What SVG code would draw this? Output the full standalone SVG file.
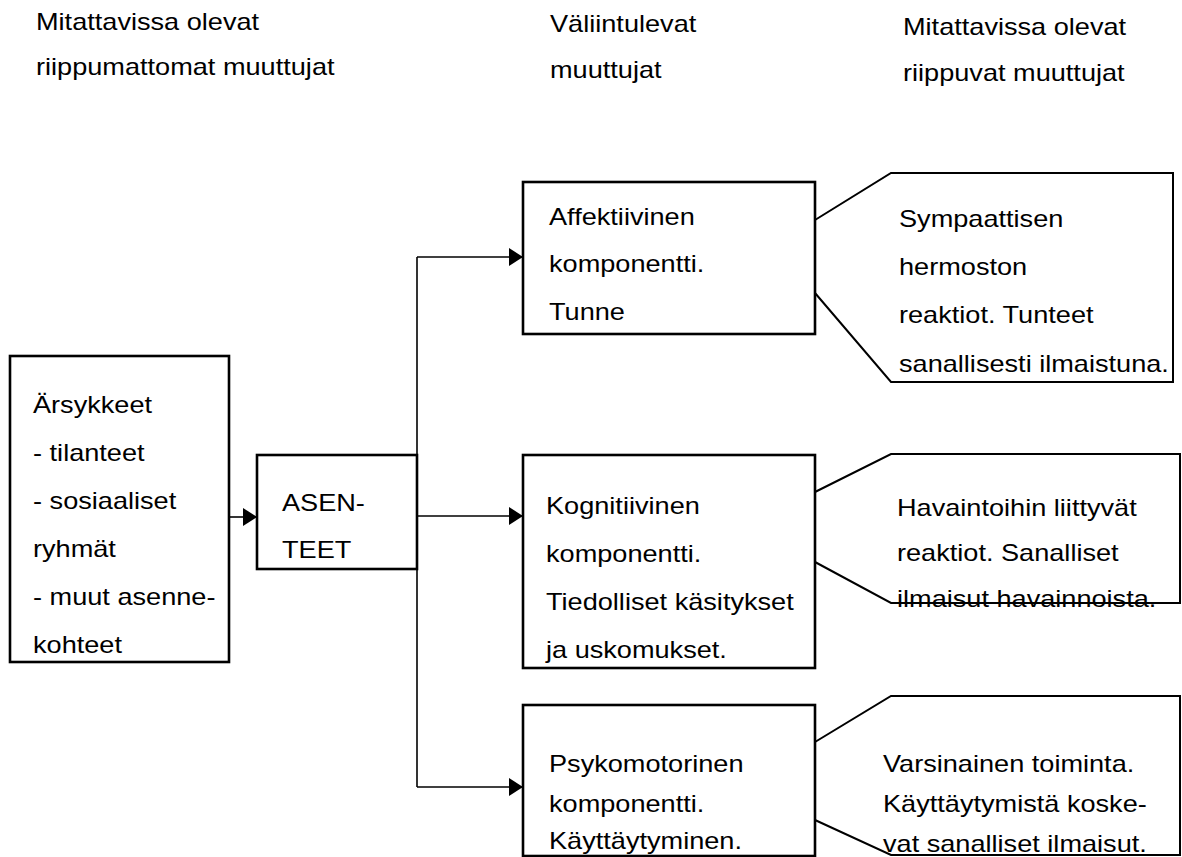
<svg xmlns="http://www.w3.org/2000/svg" width="1182" height="857" viewBox="0 0 1182 857">
  <defs>
    <marker id="arrow" markerUnits="userSpaceOnUse" markerWidth="16" markerHeight="18" refX="14" refY="9" orient="auto">
      <path d="M0,0 L14,9 L0,18 z" fill="#000"/>
    </marker>
  </defs>
  <style>
    text { font-family: "Liberation Sans", Arial, sans-serif; font-size: 23px; fill: #000; }
    .box { fill: #fff; stroke: #000; stroke-width: 2.6; }
    .call { fill: none; stroke: #000; stroke-width: 2; stroke-linejoin: miter; }
    .conn { fill: none; stroke: #000; stroke-width: 1.6; }
  </style>
  <rect width="1182" height="857" fill="#fff"/>

  <!-- column headings -->
  <g id="heading-independent">
    <text transform="translate(36,30) scale(1.18,1)">Mitattavissa olevat</text>
    <text transform="translate(36,75) scale(1.18,1)">riippumattomat muuttujat</text>
  </g>
  <g id="heading-intervening">
    <text transform="translate(550,32) scale(1.18,1)">Väliintulevat</text>
    <text transform="translate(550,78) scale(1.18,1)">muuttujat</text>
  </g>
  <g id="heading-dependent">
    <text transform="translate(903,35) scale(1.18,1)">Mitattavissa olevat</text>
    <text transform="translate(903,81) scale(1.18,1)">riippuvat muuttujat</text>
  </g>

  <!-- connectors -->
  <g id="connectors">
    <path class="conn" d="M229,517 H257" marker-end="url(#arrow)"/>
    <path class="conn" d="M417,257 V787"/>
    <path class="conn" d="M417,257 H523" marker-end="url(#arrow)"/>
    <path class="conn" d="M417,516 H523" marker-end="url(#arrow)"/>
    <path class="conn" d="M417,787 H523" marker-end="url(#arrow)"/>
  </g>

  <!-- stimuli -->
  <g id="stimuli">
    <rect class="box" x="10" y="356" width="219" height="306"/>
    <text transform="translate(33,413) scale(1.18,1)">Ärsykkeet</text>
    <text transform="translate(33,461) scale(1.18,1)">- tilanteet</text>
    <text transform="translate(33,509) scale(1.18,1)">- sosiaaliset</text>
    <text transform="translate(33,557) scale(1.18,1)">ryhmät</text>
    <text transform="translate(33,605) scale(1.18,1)">- muut asenne-</text>
    <text transform="translate(33,653) scale(1.18,1)">kohteet</text>
  </g>

  <!-- attitudes -->
  <g id="attitudes">
    <rect class="box" x="257" y="455" width="160" height="114"/>
    <text transform="translate(282,511) scale(1.18,1)">ASEN-</text>
    <text transform="translate(282,558) scale(1.18,1)">TEET</text>
  </g>

  <!-- components -->
  <g id="affective">
    <rect class="box" x="523" y="182" width="292" height="152"/>
    <text transform="translate(549,225) scale(1.18,1)">Affektiivinen</text>
    <text transform="translate(549,272) scale(1.18,1)">komponentti.</text>
    <text transform="translate(549,320) scale(1.18,1)">Tunne</text>
  </g>
  <g id="cognitive">
    <rect class="box" x="523" y="455" width="292" height="213"/>
    <text transform="translate(546,514) scale(1.18,1)">Kognitiivinen</text>
    <text transform="translate(546,562) scale(1.18,1)">komponentti.</text>
    <text transform="translate(546,610) scale(1.18,1)">Tiedolliset käsitykset</text>
    <text transform="translate(546,658) scale(1.18,1)">ja uskomukset.</text>
  </g>
  <g id="psychomotor">
    <rect class="box" x="523" y="705" width="292" height="151"/>
    <text transform="translate(549,772) scale(1.18,1)">Psykomotorinen</text>
    <text transform="translate(549,812) scale(1.18,1)">komponentti.</text>
    <text transform="translate(549,849) scale(1.18,1)">Käyttäytyminen.</text>
  </g>

  <!-- measurable responses -->
  <g id="affective-response">
    <path class="call" d="M815,220 L891,173 H1173 V382 H891 L815,293"/>
    <text transform="translate(899,227) scale(1.18,1)">Sympaattisen</text>
    <text transform="translate(899,275) scale(1.18,1)">hermoston</text>
    <text transform="translate(899,323) scale(1.18,1)">reaktiot. Tunteet</text>
    <text transform="translate(899,372) scale(1.18,1)">sanallisesti ilmaistuna.</text>
  </g>
  <g id="cognitive-response">
    <path class="call" d="M815,492 L891,454 H1180 V603 H891 L815,562"/>
    <text transform="translate(897,516) scale(1.18,1)">Havaintoihin liittyvät</text>
    <text transform="translate(897,561) scale(1.18,1)">reaktiot. Sanalliset</text>
    <text transform="translate(897,607) scale(1.18,1)">ilmaisut havainnoista.</text>
  </g>
  <g id="psychomotor-response">
    <path class="call" d="M815,742 L891,696 H1180 V855 H891 L815,820"/>
    <text transform="translate(883,772) scale(1.18,1)">Varsinainen toiminta.</text>
    <text transform="translate(883,812) scale(1.18,1)">Käyttäytymistä koske-</text>
    <text transform="translate(883,852) scale(1.18,1)">vat sanalliset ilmaisut.</text>
  </g>
</svg>
